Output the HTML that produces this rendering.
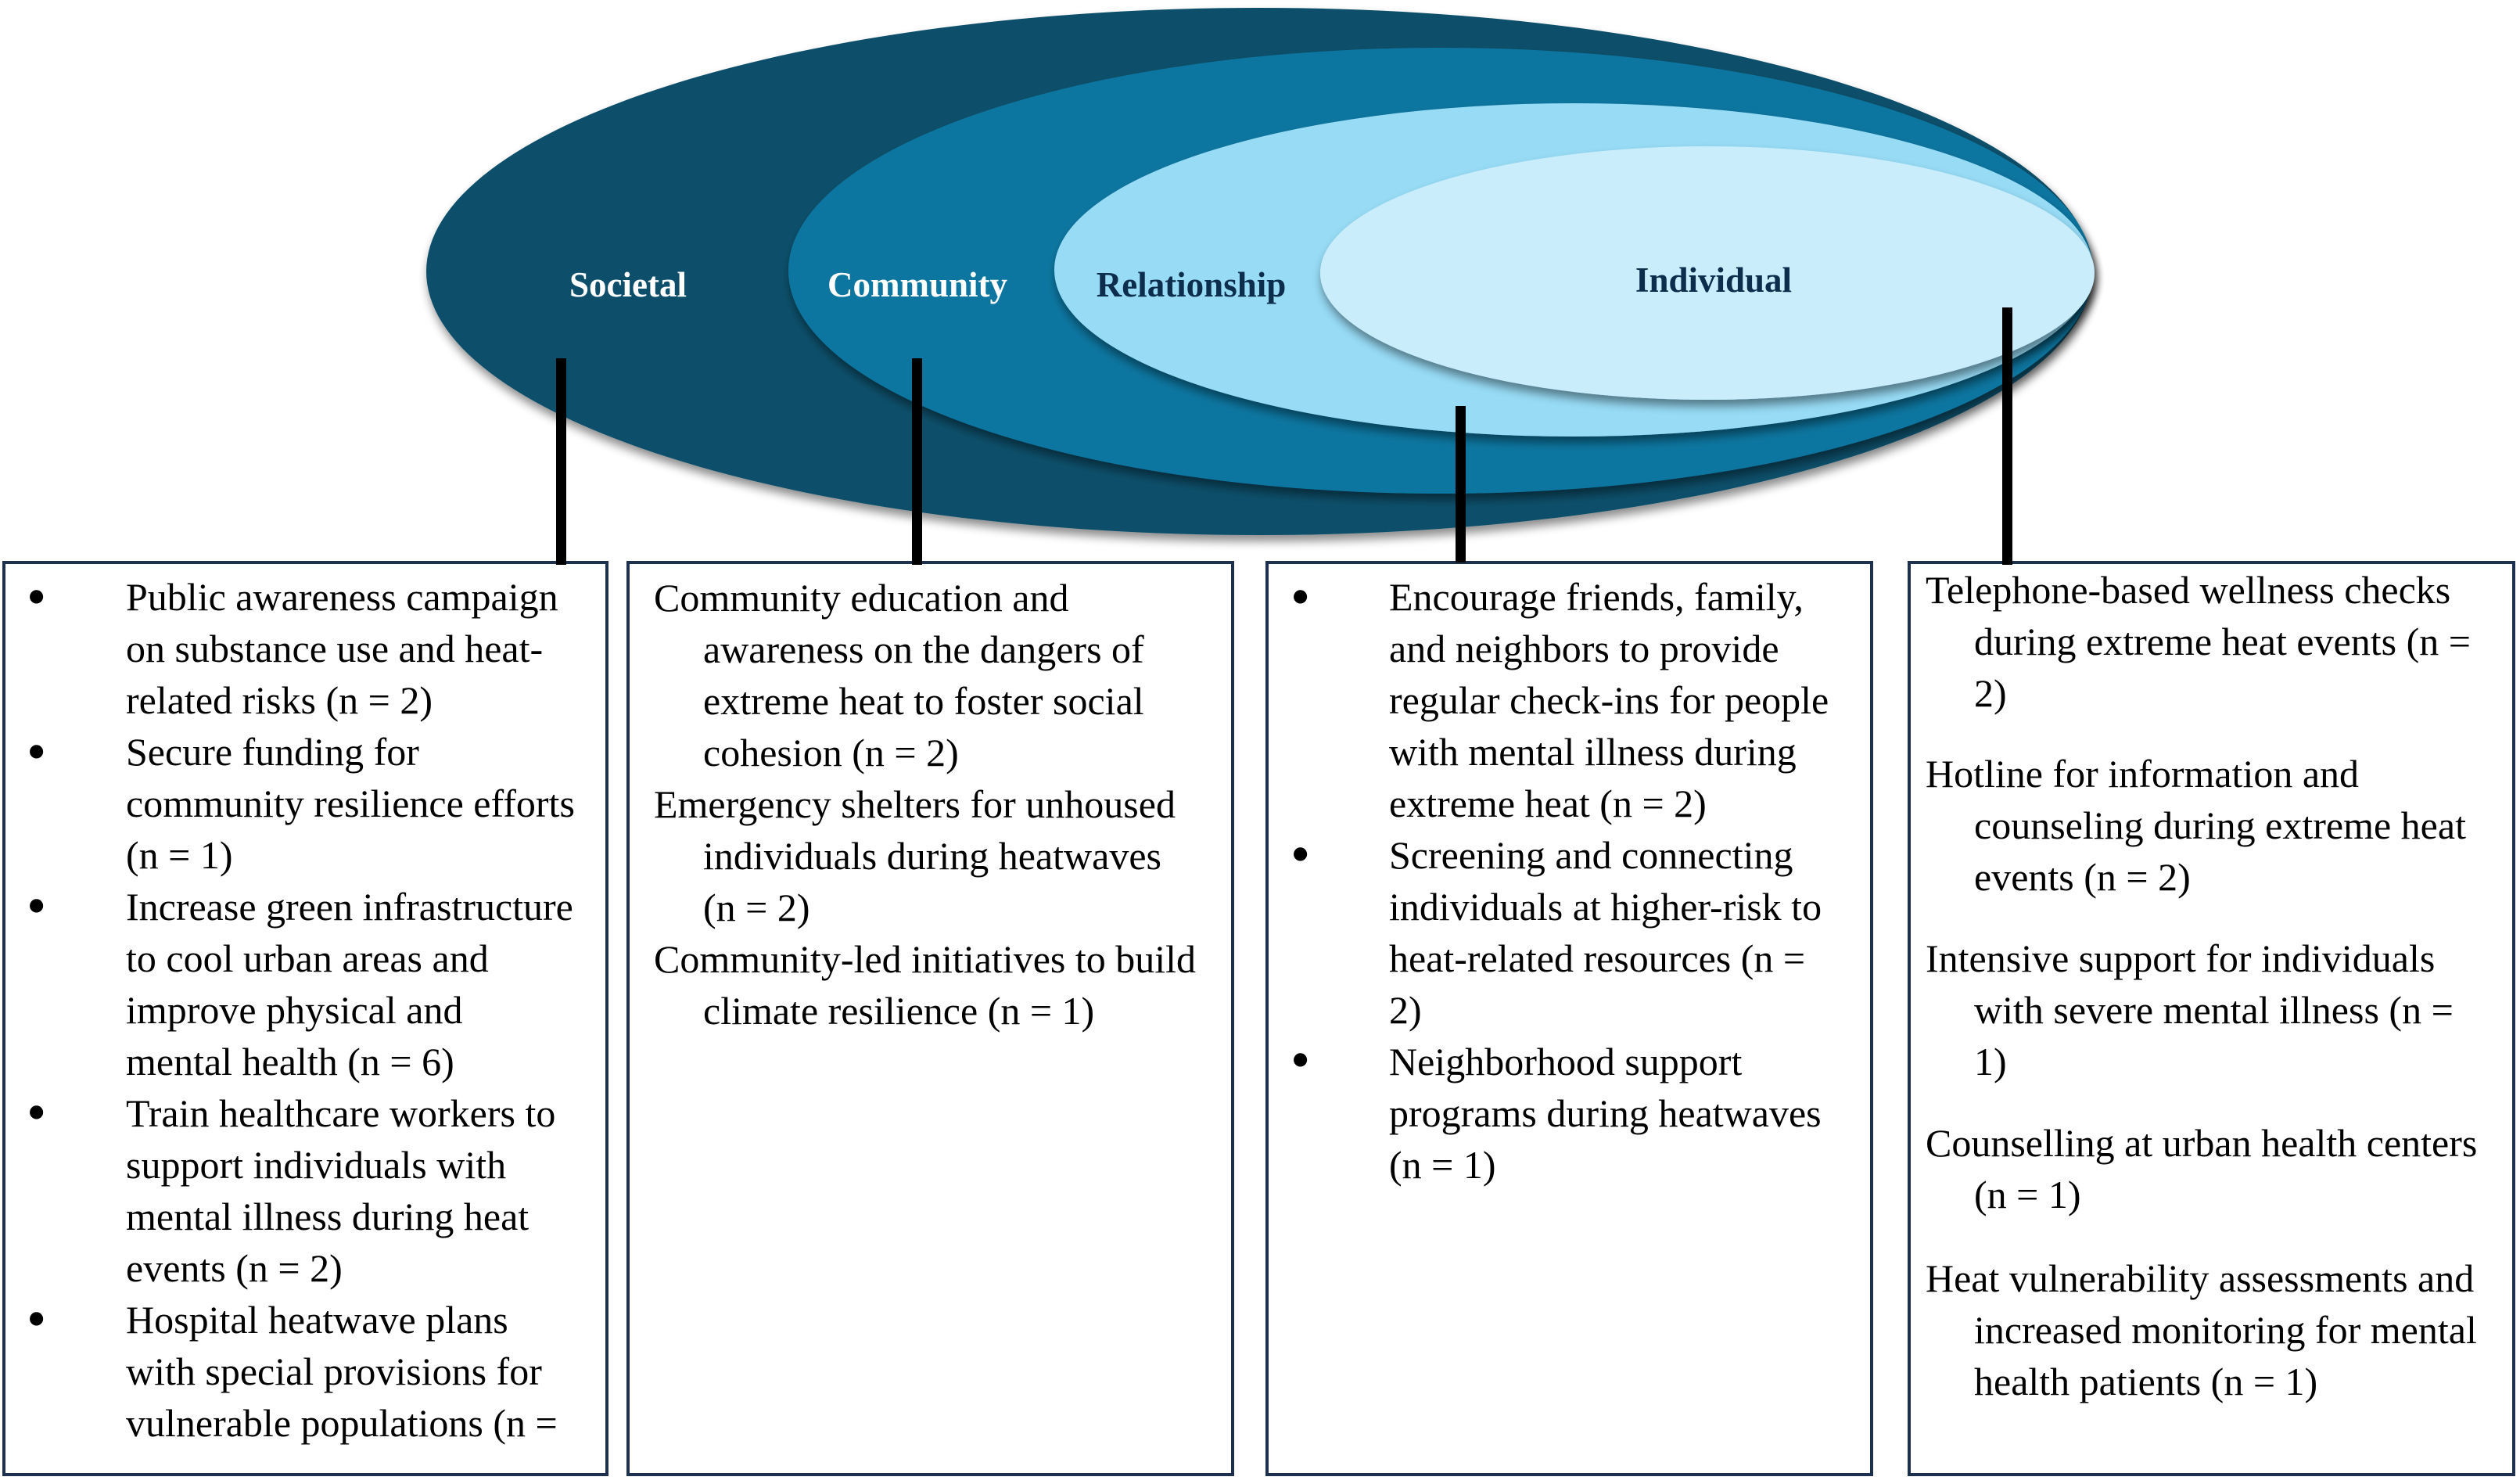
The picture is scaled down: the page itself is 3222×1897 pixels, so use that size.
<!DOCTYPE html>
<html><head><meta charset="utf-8"><style>
html,body{margin:0;padding:0;background:#fff}
body{width:3222px;height:1897px;position:relative;overflow:hidden;font-family:"Liberation Serif","Times New Roman",serif;color:#000}
.box{position:absolute;top:717px;height:1170px;border:4px solid #1d3050;box-sizing:border-box;background:#fff}
.l{position:absolute;font-size:50px;line-height:66px;white-space:nowrap}
.b{position:absolute;font-size:72px;line-height:66px;white-space:nowrap}
.lab{position:absolute;font-weight:bold;font-size:45px;white-space:nowrap;transform:translateX(-50%)}
.vl{position:absolute;width:13px;background:#000}
</style></head><body>
<svg width="3222" height="720" style="position:absolute;left:0;top:0">
<defs><filter id="sh" x="-10%" y="-10%" width="120%" height="130%"><feGaussianBlur in="SourceAlpha" stdDeviation="6"/><feOffset dx="2" dy="8"/><feComponentTransfer><feFuncA type="linear" slope="0.45"/></feComponentTransfer><feMerge><feMergeNode/><feMergeNode in="SourceGraphic"/></feMerge></filter></defs>
<ellipse cx="1610" cy="347" rx="1065" ry="337" fill="#0b4f6a" filter="url(#sh)"/>
<ellipse cx="1842" cy="346" rx="834" ry="285" fill="#0e76a0" filter="url(#sh)"/>
<ellipse cx="2012" cy="345" rx="664" ry="213" fill="#97dbf5" filter="url(#sh)"/>
<ellipse cx="2183" cy="349" rx="495" ry="162" fill="#c9edfb" filter="url(#sh)"/>
</svg>
<div class="lab" style="left:803px;top:338px;color:#fff">Societal</div>
<div class="lab" style="left:1173px;top:338px;color:#fff">Community</div>
<div class="lab" style="left:1523px;top:338px;color:#0c2d4c">Relationship</div>
<div class="lab" style="left:2191px;top:332px;color:#0c2d4c">Individual</div>

<div class="box" style="left:3px;width:775px"></div>
<div class="box" style="left:801px;width:777px"></div>
<div class="box" style="left:1618px;width:777px"></div>
<div class="box" style="left:2439px;width:777px"></div>

<div class="vl" style="left:711px;top:458px;height:264px"></div>
<div class="vl" style="left:1166px;top:458px;height:264px"></div>
<div class="vl" style="left:1861px;top:519px;height:200px"></div>
<div class="vl" style="left:2560px;top:393px;height:329px"></div>

<!-- Box 1 -->
<div class="b" style="left:34px;top:730px">•</div>
<div class="b" style="left:34px;top:928px">•</div>
<div class="b" style="left:34px;top:1125px">•</div>
<div class="b" style="left:34px;top:1389px">•</div>
<div class="b" style="left:34px;top:1653px">•</div>
<div class="l" style="left:161px;top:730px">Public awareness campaign<br>on substance use and heat-<br>related risks (n = 2)<br>Secure funding for<br>community resilience efforts<br>(n = 1)<br>Increase green infrastructure<br>to cool urban areas and<br>improve physical and<br>mental health (n = 6)<br>Train healthcare workers to<br>support individuals with<br>mental illness during heat<br>events (n = 2)<br>Hospital heatwave plans<br>with special provisions for<br>vulnerable populations (n =</div>

<!-- Box 2 -->
<div class="l" style="left:836px;top:731px">Community education and<br><span style="padding-left:63px">awareness on the dangers of</span><br><span style="padding-left:63px">extreme heat to foster social</span><br><span style="padding-left:63px">cohesion (n = 2)</span><br>Emergency shelters for unhoused<br><span style="padding-left:63px">individuals during heatwaves</span><br><span style="padding-left:63px">(n = 2)</span><br>Community-led initiatives to build<br><span style="padding-left:63px">climate resilience (n = 1)</span></div>

<!-- Box 3 -->
<div class="b" style="left:1650px;top:730px">•</div>
<div class="b" style="left:1650px;top:1059px">•</div>
<div class="b" style="left:1650px;top:1322px">•</div>
<div class="l" style="left:1776px;top:730px">Encourage friends, family,<br>and neighbors to provide<br>regular check-ins for people<br>with mental illness during<br>extreme heat (n = 2)<br>Screening and connecting<br>individuals at higher-risk to<br>heat-related resources (n =<br>2)<br>Neighborhood support<br>programs during heatwaves<br>(n = 1)</div>

<!-- Box 4 -->
<div class="l" style="left:2462px;top:721px">Telephone-based wellness checks<br><span style="padding-left:62px">during extreme heat events (n =</span><br><span style="padding-left:62px">2)</span></div>
<div class="l" style="left:2462px;top:956px">Hotline for information and<br><span style="padding-left:62px">counseling during extreme heat</span><br><span style="padding-left:62px">events (n = 2)</span></div>
<div class="l" style="left:2462px;top:1192px">Intensive support for individuals<br><span style="padding-left:62px">with severe mental illness (n =</span><br><span style="padding-left:62px">1)</span></div>
<div class="l" style="left:2462px;top:1428px">Counselling at urban health centers<br><span style="padding-left:62px">(n = 1)</span></div>
<div class="l" style="left:2462px;top:1601px">Heat vulnerability assessments and<br><span style="padding-left:62px">increased monitoring for mental</span><br><span style="padding-left:62px">health patients (n = 1)</span></div>
</body></html>
